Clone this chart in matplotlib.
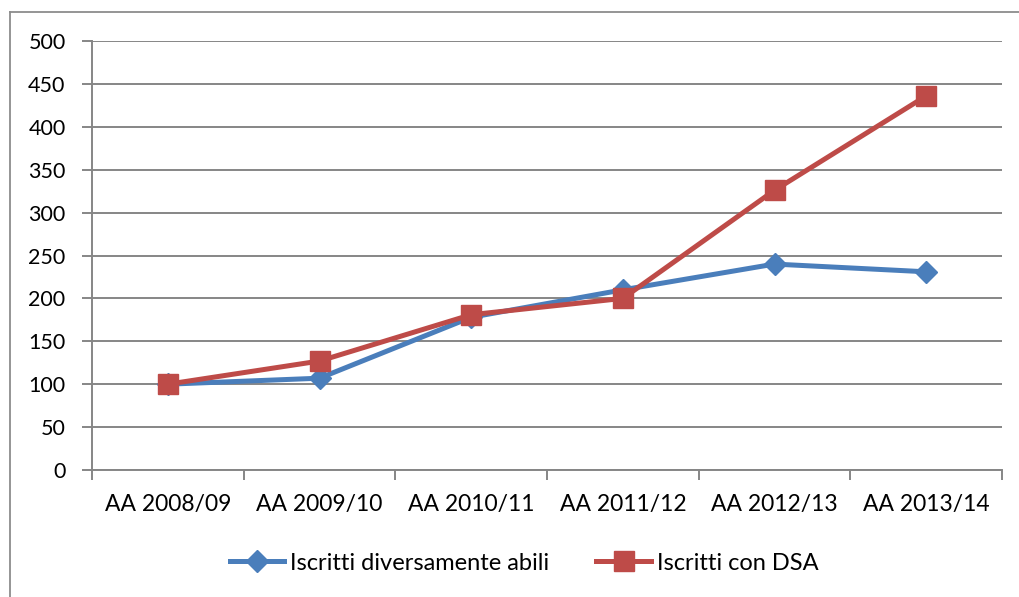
import matplotlib
matplotlib.use("Agg")
import matplotlib.pyplot as plt
from matplotlib.lines import Line2D
from matplotlib.ticker import FixedLocator, MultipleLocator

plt.rcParams['font.family'] = ['Lato', 'DejaVu Sans']

anni = ["AA 2008/09", "AA 2009/10", "AA 2010/11", "AA 2011/12", "AA 2012/13", "AA 2013/14"]
diversamente_abili = [100, 107, 178, 210, 240, 231]
con_dsa = [100, 127, 181, 200, 326, 436]

W, H = 1019, 597
fig = plt.figure(figsize=(W / 100, H / 100), dpi=100)
ax = fig.add_axes([92 / W, 1 - 470 / H, (1002 - 92) / W, (470 - 41) / H])

# cornice esterna (solo lati sinistro e superiore visibili nel ritaglio)
bx, by = 9.5 / W, 1 - 11.5 / H
fig.add_artist(Line2D([bx, bx], [0, by], transform=fig.transFigure, color="#8c8c8c", lw=1.3))
fig.add_artist(Line2D([bx, 1], [by, by], transform=fig.transFigure, color="#8c8c8c", lw=1.3))

x = range(len(anni))
ax.plot(x, diversamente_abili, color="#4a7ebb", lw=3.6, marker="D", ms=11,
        mec="#4a7ebb", label="Iscritti diversamente abili", zorder=3)
ax.plot(x, con_dsa, color="#be4b48", lw=3.6, marker="s", ms=14,
        mec="#be4b48", label="Iscritti con DSA", zorder=4)

ax.set_xlim(-0.5, len(anni) - 0.5)
ax.set_ylim(0, 500)
ax.yaxis.set_major_locator(MultipleLocator(50))
ax.grid(axis="y", color="#868686", lw=1.4)
ax.set_axisbelow(True)

ax.set_xticks(list(x))
ax.set_xticklabels(anni, fontsize=16.5)
ax.tick_params(axis="x", length=0, pad=17)
ax.xaxis.set_minor_locator(FixedLocator([i - 0.5 for i in range(len(anni) + 1)]))
ax.tick_params(axis="x", which="minor", length=7, width=1.4, color="#868686")
ax.tick_params(axis="y", labelsize=15.5, length=7, width=1.4, color="#868686", pad=12)

for s in ["top", "right"]:
    ax.spines[s].set_visible(False)
for s in ["left", "bottom"]:
    ax.spines[s].set_color("#868686")
    ax.spines[s].set_linewidth(1.4)

fig.legend(loc="center", bbox_to_anchor=(524 / W, 1 - 563 / H), ncol=2, frameon=False,
           fontsize=17, handlelength=2.3, columnspacing=2.0, handletextpad=0.25)

fig.savefig("out.png", dpi=100)
